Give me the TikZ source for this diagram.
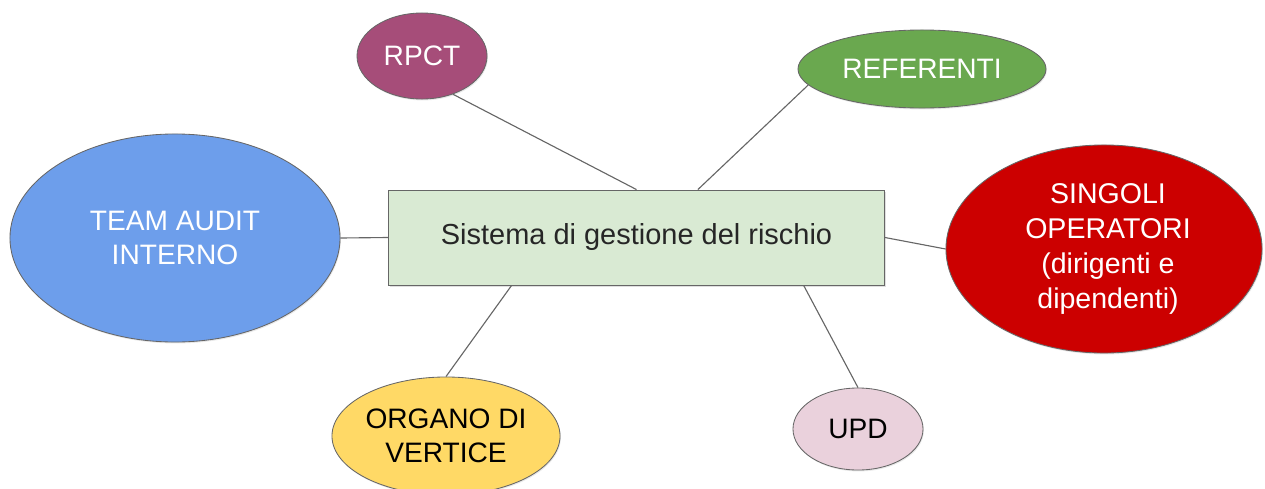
\documentclass[tikz,border=0pt]{standalone}
\usepackage{fontspec}
\setmainfont{Liberation Sans}
\usepackage{xcolor}
\usepackage{tikz}
\usetikzlibrary{shapes.geometric,shadows}

\definecolor{sysgreen}{HTML}{D9EAD3}
\definecolor{rpctcol}{HTML}{A64D79}
\definecolor{refcol}{HTML}{6AA84F}
\definecolor{teamcol}{HTML}{6D9EEB}
\definecolor{opcol}{HTML}{CC0000}
\definecolor{vertcol}{HTML}{FFD966}
\definecolor{updcol}{HTML}{EAD1DC}

\begin{document}
\begin{tikzpicture}[x=0.025cm,y=-0.025cm,font=\fontsize{20}{24}\selectfont,
  bubble/.style={ellipse,draw=black!60,line width=0.6pt,inner sep=0pt,align=center,
    drop shadow={opacity=0.18,shadow xshift=0.6pt,shadow yshift=-1pt}},
  link/.style={draw=black!60,line width=0.8pt}]
\useasboundingbox (0,0) rectangle (1265,488);
\clip (0,0) rectangle (1265,488);
\node[draw=black!60,line width=0.6pt,fill=sysgreen,minimum width=12.4cm,minimum height=2.375cm,
  font=\fontsize{20.6}{24}\selectfont,text=black!85,
  drop shadow={opacity=0.25,shadow xshift=1pt,shadow yshift=-1.2pt}] (sys) at (636.5,237.5) {Sistema di gestione del rischio};
\node[bubble,fill=rpctcol,text=white,minimum width=3.25cm,minimum height=2.15cm] (rpct) at (422,56) {RPCT};
\node[bubble,fill=refcol,text=white,minimum width=6.2cm,minimum height=1.95cm] (ref) at (922,69) {REFERENTI};
\node[bubble,fill=teamcol,text=white,minimum width=8.25cm,minimum height=5.2cm] (team) at (175,238) {TEAM AUDIT\\INTERNO};
\node[bubble,fill=opcol,text=white,minimum width=7.9cm,minimum height=5.2cm,
  font=\fontsize{20.3}{24.8}\selectfont] (op) at (1104,249) {\hspace*{0.2cm}SINGOLI\\\hspace*{0.2cm}OPERATORI\\\hspace*{0.2cm}(dirigenti e\\\hspace*{0.2cm}dipendenti)};
\node[bubble,fill=vertcol,minimum width=5.7cm,minimum height=2.95cm] (vert) at (446,436) {ORGANO DI\\VERTICE};
\node[bubble,fill=updcol,minimum width=3.25cm,minimum height=2.05cm] (upd) at (858,429) {UPD};
\draw[link] (sys.north) -- (rpct.-51);
\draw[link] (sys.38) -- (ref.-172);
\draw[link] (sys.west) -- (team.east);
\draw[link] (sys.east) -- (op.west);
\draw[link] (sys.-159) -- (vert.north);
\draw[link] (sys.-16.5) -- (upd.north);
\end{tikzpicture}
\end{document}
